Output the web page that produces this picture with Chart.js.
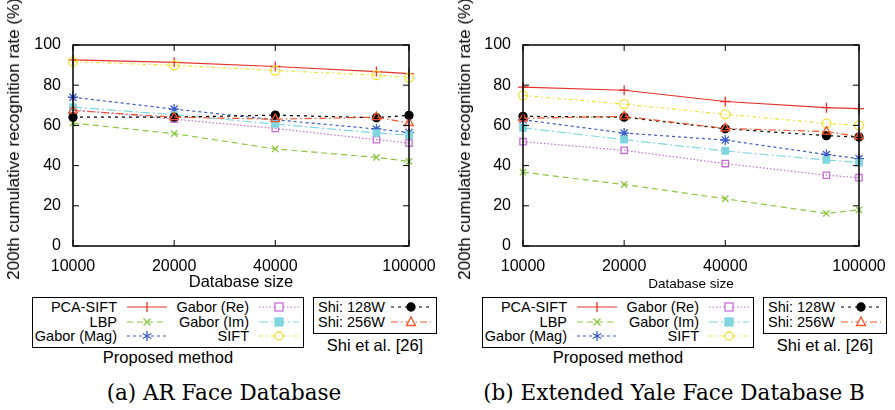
<!DOCTYPE html>
<html><head><meta charset="utf-8">
<script src="https://cdn.jsdelivr.net/npm/chart.js@4.4.1/dist/chart.umd.min.js"></script>
<style>
html,body{margin:0;padding:0;background:#fff;}
#wrap{position:relative;width:895px;height:410px;overflow:hidden;font-family:"Liberation Sans",Arial,sans-serif;color:#000;}
canvas{position:absolute;top:0;}
.box{position:absolute;border:1.3px solid #000;box-sizing:border-box;}
.t{position:absolute;font-size:14.5px;line-height:14px;white-space:nowrap;}
.r{text-align:right;}
.cap{position:absolute;font-family:"DejaVu Serif","Liberation Serif",serif;font-size:21.5px;line-height:25px;white-space:nowrap;transform:translateX(-50%);}
.lab{position:absolute;font-size:16.5px;line-height:19px;white-space:nowrap;transform:translateX(-50%);}
.ytitle{position:absolute;font-size:17px;line-height:20px;white-space:nowrap;transform:translate(-50%,-50%) rotate(-90deg);}
svg{position:absolute;overflow:visible;}
</style></head>
<body><div id="wrap">
<canvas id="c1" width="447" height="296" style="left:0"></canvas>
<canvas id="c2" width="447" height="296" style="left:450px"></canvas>
</div>
<script>
// ---------- data ----------
const dbSizes = [10000, 20000, 40000, 80000, 100000];
const xTickValues = [10000, 20000, 40000, 100000];
const seriesNames = ["PCA-SIFT", "LBP", "Gabor (Mag)", "Gabor (Re)", "Gabor (Im)", "SIFT", "Shi: 128W", "Shi: 256W"];

// (a) AR Face Database
const arPcaSift  = [92.6, 91.4, 89.3, 86.8, 85.8];
const arLbp      = [61.2, 55.9, 48.3, 44.1, 42.1];
const arGaborMag = [74.0, 68.1, 62.8, 58.2, 56.5];
const arGaborRe  = [67.8, 63.1, 58.5, 52.9, 51.2];
const arGaborIm  = [69.1, 65.3, 60.7, 56.2, 55.2];
const arSift     = [91.7, 89.9, 87.3, 85.0, 83.8];
const arShi128   = [64.1, 64.1, 65.1, 63.8, 65.0];
const arShi256   = [67.4, 64.1, 63.1, 64.1, 61.2];

// (b) Extended Yale Face Database B
const ybPcaSift  = [79.0, 77.5, 71.9, 68.8, 68.3];
const ybLbp      = [36.7, 30.6, 23.5, 16.2, 18.0];
const ybGaborMag = [62.8, 56.2, 52.7, 45.5, 43.5];
const ybGaborRe  = [51.9, 47.6, 41.0, 35.2, 34.0];
const ybGaborIm  = [58.8, 52.9, 47.3, 42.8, 41.5];
const ybSift     = [74.9, 70.6, 65.5, 61.0, 60.0];
const ybShi128   = [64.5, 64.1, 58.3, 54.9, 54.2];
const ybShi256   = [63.5, 64.5, 58.5, 56.9, 54.5];

const yTitle = '200th cumulative recognition rate (%)';

// ---------- styles ----------
const styles = [
  {color:'#e4322a', dash:[],            point:'cross',    fill:false, r:5},
  {color:'#8cc63f', dash:[6,4],         point:'crossRot', fill:false, r:4.5},
  {color:'#3a5bc7', dash:[3,3],         point:'star',     fill:false, r:5},
  {color:'#c86dd7', dash:[1.5,2],       point:'rect',     fill:false, r:4.5},
  {color:'#7fd6df', dash:[9,3,2,3],     point:'rect',     fill:true,  r:4.5},
  {color:'#f0e13a', dash:[4,3,1.5,3],   point:'circle',   fill:false, r:4.5},
  {color:'#000000', dash:[3,4],         point:'circle',   fill:true,  r:4},
  {color:'#f0542a', dash:[7,3,1.5,3],   point:'triangle', fill:false, r:5}
];

function makeDatasets(arrs){
  return arrs.map((a,i)=>{
    const s = styles[i];
    return {
      label: seriesNames[i],
      data: dbSizes.map((x,j)=>({x:x, y:a[j]})),
      borderColor: s.color,
      backgroundColor: s.fill ? s.color : 'rgba(0,0,0,0)',
      borderWidth: 1.2,
      borderDash: s.dash,
      pointStyle: s.point,
      pointRadius: s.r,
      pointBorderWidth: 1.3,
      pointBorderColor: s.color,
      pointBackgroundColor: s.fill ? s.color : 'rgba(0,0,0,0)',
      tension: 0,
      clip: false,
      order: 8-i
    };
  });
}

const framePlugin = {
  id:'frame',
  afterDraw(chart){
    const {ctx, chartArea:a, scales} = chart;
    ctx.save();
    ctx.strokeStyle = '#000';
    ctx.lineWidth = 1;
    ctx.setLineDash([]);
    const L = 6;
    scales.y.ticks.forEach(t=>{
      const y = scales.y.getPixelForValue(t.value);
      ctx.beginPath();
      ctx.moveTo(a.left, y); ctx.lineTo(a.left+L, y);
      ctx.moveTo(a.right, y); ctx.lineTo(a.right-L, y);
      ctx.stroke();
    });
    scales.x.ticks.forEach(t=>{
      const x = scales.x.getPixelForValue(t.value);
      ctx.beginPath();
      ctx.moveTo(x, a.bottom); ctx.lineTo(x, a.bottom-L);
      ctx.moveTo(x, a.top); ctx.lineTo(x, a.top+L);
      ctx.stroke();
    });
    ctx.lineWidth = 1.5;
    ctx.strokeRect(a.left, a.top, a.right-a.left, a.bottom-a.top);
    ctx.restore();
  }
};

function makeChart(id, arrs, xTitleSize){
  return new Chart(document.getElementById(id), {
    type:'line',
    data:{datasets: makeDatasets(arrs)},
    options:{
      responsive:false, animation:false, devicePixelRatio:1,
      layout:{padding:{top:45, right:38, left:0, bottom:0}},
      plugins:{legend:{display:false}, tooltip:{enabled:false}},
      scales:{
        x:{
          type:'logarithmic', min:10000, max:100000,
          afterBuildTicks(s){ s.ticks = xTickValues.map(v=>({value:v})); },
          afterFit(s){ s.height = 50; },
          grid:{display:false}, border:{display:false},
          ticks:{color:'#000', font:{family:'Liberation Sans', size:16}, padding:3,
                 maxRotation:0, autoSkip:false, callback:(v)=>String(v)},
          title:{display:true, text:'Database size', color:'#000',
                 font:{family:'Liberation Sans', size:xTitleSize}, padding:{top:0,bottom:4}}
        },
        y:{
          min:0, max:100,
          afterFit(s){ s.width = 73; },
          grid:{display:false}, border:{display:false},
          ticks:{stepSize:20, color:'#000', font:{family:'Liberation Sans', size:16}, padding:4}
        }
      }
    },
    plugins:[framePlugin]
  });
}

makeChart('c1', [arPcaSift, arLbp, arGaborMag, arGaborRe, arGaborIm, arSift, arShi128, arShi256], 16.5);
makeChart('c2', [ybPcaSift, ybLbp, ybGaborMag, ybGaborRe, ybGaborIm, ybSift, ybShi128, ybShi256], 13.5);

// ---------- legends (HTML) ----------
const wrap = document.getElementById('wrap');
function markerSvg(s, cx, cy){
  const r = 4, c = s.color;
  switch(s.point){
    case 'cross': return `<path d="M${cx} ${cy-5}V${cy+5}" stroke="${c}" stroke-width="1.3"/>`;
    case 'crossRot': return `<path d="M${cx-3.5} ${cy-3.5}L${cx+3.5} ${cy+3.5}M${cx-3.5} ${cy+3.5}L${cx+3.5} ${cy-3.5}" stroke="${c}" stroke-width="1.3"/>`;
    case 'star': return `<path d="M${cx} ${cy-5}V${cy+5}M${cx-4.3} ${cy-2.5}L${cx+4.3} ${cy+2.5}M${cx-4.3} ${cy+2.5}L${cx+4.3} ${cy-2.5}" stroke="${c}" stroke-width="1.3"/>`;
    case 'rect': return `<rect x="${cx-r}" y="${cy-r}" width="${2*r}" height="${2*r}" stroke="${c}" stroke-width="1.3" fill="${s.fill?c:'#fff'}"/>`;
    case 'circle': return `<circle cx="${cx}" cy="${cy}" r="${r}" stroke="${c}" stroke-width="1.3" fill="${s.fill?c:'#fff'}"/>`;
    case 'triangle': return `<path d="M${cx} ${cy-5}L${cx+4.5} ${cy+3.5}L${cx-4.5} ${cy+3.5}Z" stroke="${c}" stroke-width="1.3" fill="#fff"/>`;
  }
  return '';
}
function addSample(x, y, idx){
  const s = styles[idx];
  const w = 40;
  const svg = `<svg style="left:${x}px;top:${y-6}px" width="${w}" height="12"><line x1="0" y1="6" x2="${w}" y2="6" stroke="${s.color}" stroke-width="1.2" stroke-dasharray="${s.dash.join(' ')}"/>${markerSvg(s, w/2, 6)}</svg>`;
  wrap.insertAdjacentHTML('beforeend', svg);
}
function addText(txt, x, y, right){
  const el = document.createElement('div');
  el.className = 't' + (right?' r':'');
  el.textContent = txt;
  if(right){ el.style.right = (895 - x) + 'px'; } else { el.style.left = x + 'px'; }
  el.style.top = (y-7) + 'px';
  wrap.appendChild(el);
}
function addLegend(ox, caption, yTitleX){
  const yt = document.createElement('div');
  yt.className = 'ytitle';
  yt.textContent = yTitle;
  yt.style.left = (ox + yTitleX) + 'px';
  yt.style.top = '139px';
  wrap.appendChild(yt);
  wrap.insertAdjacentHTML('beforeend', `<div class="box" style="left:${ox+32}px;top:297px;width:272px;height:51px"></div>`);
  wrap.insertAdjacentHTML('beforeend', `<div class="box" style="left:${ox+313}px;top:297px;width:124px;height:37px"></div>`);
  const rows = [307, 321.5, 336];
  [0,1,2].forEach((k,i)=>{ addText(seriesNames[k], ox+117, rows[i], true); addSample(ox+127, rows[i], k); });
  [3,4,5].forEach((k,i)=>{ addText(seriesNames[k], ox+249, rows[i], true); addSample(ox+259, rows[i], k); });
  [6,7].forEach((k,i)=>{ addText(seriesNames[k], ox+318, rows[i], false); addSample(ox+391, rows[i], k); });
  wrap.insertAdjacentHTML('beforeend', `<div class="lab" style="left:${ox+168}px;top:348px">Proposed method</div>`);
  wrap.insertAdjacentHTML('beforeend', `<div class="lab" style="left:${ox+375}px;top:336px">Shi et al. [26]</div>`);
  wrap.insertAdjacentHTML('beforeend', `<div class="cap" style="left:${ox+224}px;top:380px">${caption}</div>`);
}
addLegend(0, '(a) AR Face Database', 14);
addLegend(450, '(b) Extended Yale Face Database B', 15);
</script>
</body></html>
